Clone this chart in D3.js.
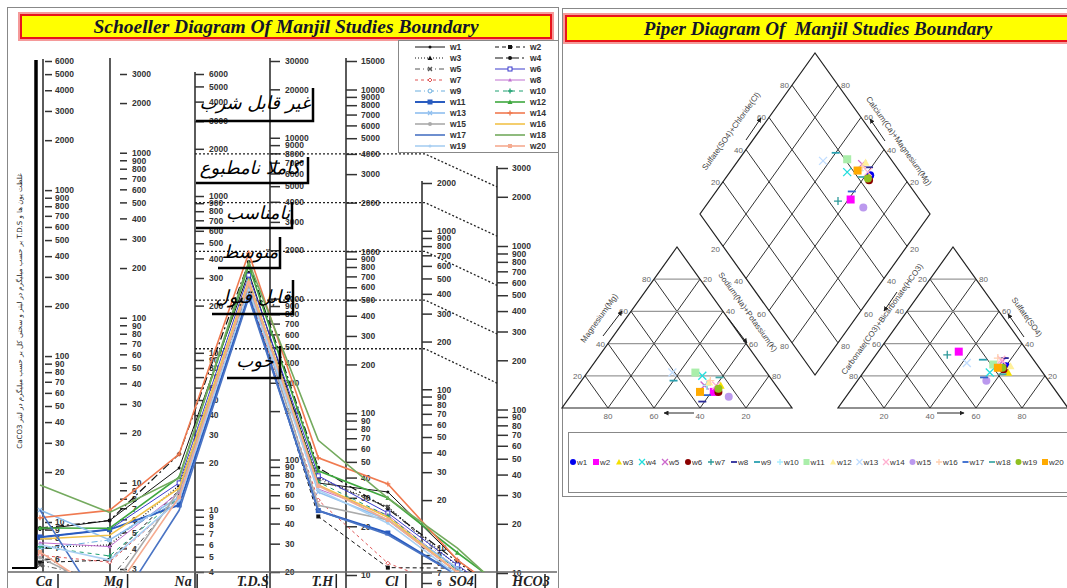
<!DOCTYPE html>
<meta charset="utf-8">
<script src="https://d3js.org/d3.v7.min.js"></script>
<style>
  body { margin: 0; background: #fff; }
  svg { display: block; }
</style>
<div id="chart"></div>
<script>
// ---------- data ----------
const wells = ["w1","w2","w3","w4","w5","w6","w7","w8","w9","w10",
               "w11","w12","w13","w14","w15","w16","w17","w18","w19","w20"];
const categories = ["Ca","Mg","Na","T.D.S","T.H","Cl","SO4","HCO3"];

// Schoeller values per ion, w1..w20 (read in the units of each axis)
const ca   = [9.0,5.7,7.0,9.2,5.5,8.1,6.3,7.5,6.9,7.1,8.1,9.2,11.8,10.6,6.1,7.9,11.8,16.7,7.3,6.6];
const mg   = [5.9,3.4,4.2,5.9,2.6,5.2,3.3,4.1,4.5,3.6,5.2,5.3,4.5,6.8,2.2,4.8,1.5,6.6,3.4,2.0];
const na   = [18.4,13.3,14.3,22.6,12.4,14.8,11.5,12.9,11.5,12.0,10.7,16.1,12.0,22.6,13.3,13.7,9.9,15.9,11.5,12.0];
const tds  = [1460,1130,1210,1690,1160,1400,1100,1300,1250,1300,1050,1610,1270,1920,1210,1300,1010,1690,1130,1250];
const th   = [37,23,40,46,39,41,29,34,36,37.5,25,44,32.5,53,27,36,25,68,33.5,35.5];
const cl   = [22.5,7.5,18.1,17.6,18.1,16.6,8.0,16.1,15.0,15.9,12.4,20.6,15.0,25.3,15.0,15.6,12.1,20.6,14.3,15.0];
const so4  = [12.0,10.7,11.0,11.7,10.4,11.2,7.9,10.4,10.1,10.4,9.7,13.3,10.7,12.0,10.1,10.1,9.7,14.2,9.7,10.1];
const hco3 = [5.9,5.2,5.5,5.8,5.2,5.5,3.9,5.2,5.0,5.2,4.8,6.4,5.3,5.9,5.2,5.0,4.8,5.8,4.8,5.0];

// tick labels of the Schoeller axes
const ticksCa  = [6000,5000,4000,3000,2000,1000,900,800,700,600,500,400,300,200,100,90,80,70,60,50,40,30,20,10,9,8,7,6];
const ticksMg  = [3000,2000,1000,900,800,700,600,500,400,300,200,100,90,80,70,60,50,40,30,20,10,9,8,7,6,5,4,3];
const ticksNa  = [6000,5000,4000,3000,2000,1000,900,800,700,600,500,400,300,200,100,90,80,70,60,50,40,30,20,10,9,8,7,6,5,4];
const ticksTds = [30000,20000,10000,9000,8000,7000,6000,5000,4000,3000,2000,1000,900,800,700,600,500,400,300,200,100,90,80,70,60,50,40,30,20];
const ticksTh  = [15000,10000,9000,8000,7000,6000,5000,4000,3000,2000,1000,900,800,700,600,500,400,300,200,100,90,80,70,60,50,40,30,20,10];
const ticksCl  = [2000,1000,900,800,700,600,500,400,300,200,100,90,80,70,60,50,40,30,20,10,9,8,7,6];
const ticksSo4 = [3000,2000,1000,900,800,700,600,500,400,300,200,100,90,80,70,60,50,40,30,20,10];

// drinking water class boundaries (on T.H axis) and their end on the last axis
const boundTH  = [4000, 2000, 1000, 500, 250];
const boundEnd = [2300, 1150, 575, 290, 145];
const classNames = ["غیر قابل شرب", "کاملا نامطبوع", "نامناسب", "متوسط", "قابل قبول", "خوب"];
const yTitle = "غلظت یون ها و T.D.S بر حسب میلیگرم در لیتر و سختی کل بر حسب میلیگرم در لیتر CaCO3";

// Piper percentages, w1..w20
const mgPct  = [11,10,14,20,14,10,14,4,17,14,22,16,22,14,7,17,8,19,12,10];
const naPct  = [62,61,62,51,55,63,56,59,40,56,47,56,37,60,69,56,59,59,62,55];
const so4Pct = [26,35,22,22,29,24,33,31,30,26,27,26,28,30,17,31,19,21,25,25];
const clPct  = [60,35,63,55,57,60,31,57,48,57,54,62,42,56,56,54,54,61,59,57];
const piperTicks = [20, 40, 60, 80];

// ---------- styles ----------
const sStyle = [
  {c:"#111", d:null, w:1, m:"circle", ms:3},
  {c:"#111", d:"4,3", w:1, m:"square", ms:4},
  {c:"#111", d:"1,2", w:1.2, m:"triangle", ms:5},
  {c:"#111", d:"8,3,2,3", w:1.2, m:"circle", ms:4},
  {c:"#555", d:"5,3,1,3", w:1, m:"x", ms:4},
  {c:"#3a3acc", d:null, w:1, m:"osquare", ms:4},
  {c:"#e05555", d:"3,3", w:1, m:"odiamond", ms:4},
  {c:"#c070d0", d:null, w:1, m:"triangle", ms:4},
  {c:"#6aaede", d:"6,3,1,3", w:1, m:"ocircle", ms:4},
  {c:"#1ea070", d:"4,4", w:1, m:"plus", ms:5},
  {c:"#2a5cc0", d:null, w:2, m:"square", ms:5},
  {c:"#3fa83f", d:null, w:1.6, m:"triangle", ms:5},
  {c:"#8fbfef", d:null, w:1.6, m:"x", ms:4},
  {c:"#f07a50", d:null, w:1.6, m:"plus", ms:5},
  {c:"#aaaaaa", d:null, w:1.6, m:"circle", ms:4},
  {c:"#f2c24a", d:null, w:1.6, m:null},
  {c:"#4a74c4", d:null, w:1.6, m:null},
  {c:"#74aa5e", d:null, w:1.6, m:null},
  {c:"#a8cff2", d:null, w:1.6, m:"circle", ms:3},
  {c:"#f5ab90", d:null, w:1.6, m:"square", ms:4}
];
const pStyle = [
  ["circle","#0000ee"],["square","#ff00ff"],["triangle","#f5e000"],["x","#22dddd"],["x","#cc66cc"],
  ["circle","#8b0000"],["plus","#2e9a9a"],["dash","#2a2a99"],["dash","#2aa0b0"],["plus","#aaeeff"],
  ["square","#aaeeaa"],["triangle","#fff09a"],["x","#c0ddff"],["x","#ffb0d0"],["circle","#bb99ee"],
  ["plus","#ffd0b0"],["dash","#3366cc"],["dash","#44aaaa"],["circle","#90c020"],["square","#ffaa00"]
];

const svg = d3.select("#chart").append("svg")
  .attr("width", 1067).attr("height", 588)
  .style("font-family", "'Liberation Sans', Arial, sans-serif");

svg.append("defs").append("marker")
  .attr("id", "arr").attr("viewBox", "0 0 10 10").attr("refX", 9).attr("refY", 5)
  .attr("markerWidth", 5).attr("markerHeight", 5).attr("orient", "auto")
  .append("path").attr("d", "M0,0 L10,5 L0,10 z").attr("fill", "#222");
svg.select("defs").append("clipPath").attr("id", "plotclip")
  .append("rect").attr("x", 8).attr("y", 42).attr("width", 549).attr("height", 530);

// marker helper
function marker(g, type, x, y, size, color) {
  const a = size / 2;
  if (type === "circle") g.append("circle").attr("cx", x).attr("cy", y).attr("r", a).attr("fill", color);
  else if (type === "ocircle") g.append("circle").attr("cx", x).attr("cy", y).attr("r", a).attr("fill", "#fff").attr("stroke", color);
  else if (type === "square") g.append("rect").attr("x", x - a).attr("y", y - a).attr("width", size).attr("height", size).attr("fill", color);
  else if (type === "osquare") g.append("rect").attr("x", x - a).attr("y", y - a).attr("width", size).attr("height", size).attr("fill", "#fff").attr("stroke", color);
  else if (type === "odiamond") g.append("path").attr("d", `M${x},${y-a}L${x+a},${y}L${x},${y+a}L${x-a},${y}Z`).attr("fill", "#fff").attr("stroke", color);
  else if (type === "triangle") g.append("path").attr("d", `M${x},${y-a}L${x+a},${y+a*0.8}L${x-a},${y+a*0.8}Z`).attr("fill", color);
  else if (type === "x") g.append("path").attr("d", `M${x-a},${y-a}L${x+a},${y+a}M${x-a},${y+a}L${x+a},${y-a}`).attr("stroke", color).attr("stroke-width", 1.3);
  else if (type === "plus") g.append("path").attr("d", `M${x-a},${y}L${x+a},${y}M${x},${y-a}L${x},${y+a}`).attr("stroke", color).attr("stroke-width", 1.3);
  else if (type === "dash") g.append("path").attr("d", `M${x-a},${y}L${x+a},${y}`).attr("stroke", color).attr("stroke-width", 1.8);
}

// ---------- frames & titles ----------
svg.append("rect").attr("x", 7.5).attr("y", 7.5).attr("width", 551).attr("height", 600)
  .attr("fill", "none").attr("stroke", "#888");
svg.append("rect").attr("x", 562.5).attr("y", 8.5).attr("width", 520).attr("height", 488)
  .attr("fill", "none").attr("stroke", "#888");

function titleBox(x, y, w, h, txt, fs) {
  svg.append("rect").attr("x", x).attr("y", y).attr("width", w).attr("height", h).attr("fill", "#f59a9a");
  svg.append("rect").attr("x", x + 3).attr("y", y + 3).attr("width", w - 6).attr("height", h - 6)
    .attr("fill", "#ffff00").attr("stroke", "#e8141c").attr("stroke-width", 2);
  svg.append("text").attr("x", x + w / 2).attr("y", y + h / 2 + fs * 0.33)
    .attr("text-anchor", "middle").attr("font-family", "'Liberation Serif','Times New Roman',serif")
    .attr("font-weight", "bold").attr("font-style", "italic").attr("font-size", fs)
    .attr("fill", "#14142a").style("white-space", "pre").text(txt);
}
titleBox(18, 12, 536, 29, "Schoeller Diagram Of Manjil Studies Boundary", 19.5);
titleBox(563, 13, 510, 31, "Piper Diagram Of  Manjil Studies Boundary", 19);

// ---------- Schoeller ----------
const axes = [
  {x: 43,  tx: 45,  ts: 7, tp: 3, ticks: ticksCa,  dom: [10, 6000],  rng: [522, 61], y1: 59,  y2: 572},
  {x: 110, tx: 120, ts: 7, tp: 5, ticks: ticksMg,  dom: [3, 3000],   rng: [569, 74], y1: 58,  y2: 572},
  {x: 195, tx: 195, ts: 9, tp: 5, ticks: ticksNa,  dom: [4, 6000],   rng: [572, 74], y1: 72,  y2: 588},
  {x: 270, tx: 270, ts: 10, tp: 5, ticks: ticksTds, dom: [20, 30000], rng: [572, 61], y1: 58,  y2: 588},
  {x: 346, tx: 346, ts: 11, tp: 4, ticks: ticksTh,  dom: [10, 15000], rng: [575, 61], y1: 58,  y2: 588},
  {x: 422, tx: 422, ts: 10, tp: 5, ticks: ticksCl,  dom: [6, 2000],   rng: [583, 183], y1: 181, y2: 588},
  {x: 497, tx: 497, ts: 11, tp: 4, ticks: ticksSo4, dom: [10, 3000],  rng: [573, 168], y1: 166, y2: 588}
];
axes.forEach(a => {
  a.scale = d3.scaleLog().domain(a.dom).range(a.rng);
  svg.append("line").attr("x1", a.x).attr("x2", a.x).attr("y1", a.y1).attr("y2", a.y2)
    .attr("stroke", "#333").attr("stroke-width", 1.6);
  const g = svg.append("g").attr("transform", `translate(${a.tx},0)`)
    .call(d3.axisRight(a.scale).tickValues(a.ticks).tickFormat(d3.format("d")).tickSize(a.ts).tickPadding(a.tp));
  g.select(".domain").remove();
  g.attr("font-size", 8.5).attr("font-family", "'Liberation Sans', Arial, sans-serif").attr("font-weight", "bold");
  g.selectAll("line").attr("stroke", "#333").attr("stroke-width", 1.5);
  g.selectAll("text").attr("fill", "#333");
});
const colScale = {"Ca": axes[0].scale, "Mg": axes[1].scale, "Na": axes[2].scale, "T.D.S": axes[3].scale,
                  "T.H": axes[4].scale, "Cl": axes[5].scale, "SO4": axes[6].scale, "HCO3": axes[6].scale};
const ionData = {"Ca": ca, "Mg": mg, "Na": na, "T.D.S": tds, "T.H": th, "Cl": cl, "SO4": so4, "HCO3": hco3};
const x = d3.scalePoint().domain(categories).range([40, 527]);

// left bar with the vertical Persian title
svg.append("line").attr("x1", 36).attr("x2", 36).attr("y1", 60).attr("y2", 568).attr("stroke", "#000").attr("stroke-width", 3.5);
svg.append("line").attr("x1", 12).attr("x2", 37).attr("y1", 568).attr("y2", 568).attr("stroke", "#000").attr("stroke-width", 2);
svg.append("text").attr("transform", "translate(22,311) rotate(-90)")
  .attr("text-anchor", "middle").attr("direction", "rtl").attr("font-size", 7)
  .attr("font-family", "'DejaVu Sans', sans-serif").attr("fill", "#222").text(yTitle);

// bottom axis line and category labels
svg.append("line").attr("x1", 8).attr("x2", 557).attr("y1", 572).attr("y2", 572).attr("stroke", "#666").attr("stroke-width", 1.6);
categories.forEach(c => {
  svg.append("text").attr("x", x(c) + 4).attr("y", 586).attr("text-anchor", "middle")
    .attr("font-family", "'Liberation Serif','Times New Roman',serif").attr("font-weight", "bold")
    .attr("font-style", "italic").attr("font-size", 14).attr("fill", "#222").text(c);
  svg.append("line").attr("x1", x(c) + 18).attr("x2", x(c) + 18).attr("y1", 574).attr("y2", 588)
    .attr("stroke", "#222").attr("stroke-width", 1.5);
});

// class boundaries (dotted)
boundTH.forEach((v, i) => {
  const yy = axes[4].scale(v);
  svg.append("path").attr("d", d3.line()([[195, yy], [425, yy], [497, axes[6].scale(boundEnd[i])]]))
    .attr("fill", "none").attr("stroke", "#222").attr("stroke-width", 1.3).attr("stroke-dasharray", "2,2");
});

// data lines
const plot = svg.append("g").attr("clip-path", "url(#plotclip)");
wells.forEach((w, i) => {
  const st = sStyle[i];
  const pts = categories.map(c => [x(c), colScale[c](ionData[c][i])]);
  plot.append("path").attr("d", d3.line()(pts)).attr("fill", "none")
    .attr("stroke", st.c).attr("stroke-width", st.w).attr("stroke-dasharray", st.d);
  if (st.m) pts.forEach(p => marker(plot, st.m, p[0], p[1], st.ms, st.c));
});

// class annotations (Persian)
const boxes = [
  {tx: 255, ty: 109, vx: 313, vy1: 88,  vy2: 121, hx1: 196},
  {tx: 250, ty: 174, vx: 308, vy1: 157, vy2: 183, hx1: 196},
  {tx: 258, ty: 219, vx: 292, vy1: 202, vy2: 228, hx1: 196},
  {tx: 250, ty: 258, vx: 280, vy1: 237, vy2: 268, hx1: 218},
  {tx: 253, ty: 303, vx: 293, vy1: 280, vy2: 314, hx1: 212},
  {tx: 255, ty: 367, vx: 280, vy1: 346, vy2: 378, hx1: 227}
];
classNames.forEach((t, i) => {
  const b = boxes[i];
  svg.append("path").attr("d", `M${b.hx1},${b.vy2}H${b.vx}V${b.vy1}`).attr("fill", "none")
    .attr("stroke", "#000").attr("stroke-width", 2.5);
  svg.append("text").attr("x", b.tx).attr("y", b.ty).attr("text-anchor", "middle").attr("direction", "rtl")
    .attr("font-family", "'DejaVu Sans', sans-serif").attr("font-style", "italic").attr("font-size", 18)
    .attr("fill", "#000").text(t);
});

// legend (top right)
const lg = svg.append("g");
lg.append("rect").attr("x", 398.5).attr("y", 40.5).attr("width", 160).attr("height", 112)
  .attr("fill", "#fff").attr("stroke", "#888");
wells.forEach((w, i) => {
  const col = i % 2, row = Math.floor(i / 2);
  const x0 = col ? 495 : 415, yy = 47 + row * 11;
  const st = sStyle[i];
  lg.append("line").attr("x1", x0).attr("x2", x0 + 30).attr("y1", yy).attr("y2", yy)
    .attr("stroke", st.c).attr("stroke-width", st.w).attr("stroke-dasharray", st.d);
  if (st.m) marker(lg, st.m, x0 + 15, yy, st.ms, st.c);
  lg.append("text").attr("x", x0 + 35).attr("y", yy + 3).attr("font-size", 8.5)
    .attr("font-weight", "bold").attr("fill", "#333").text(w);
});

// ---------- Piper ----------
const pg = svg.append("g");
const S = 230, Ht = 161, yb = 408;
const tri = x0 => ({x: d3.scaleLinear().domain([0, 1]).range([x0, x0 + S]),
                    y: d3.scaleLinear().domain([0, 1]).range([yb, yb - Ht])});
const catT = tri(562), anT = tri(838);
const tp = (T, up, right) => [T.x(right + up / 2), T.y(up)];
const dX = d3.scaleLinear().domain([-1, 1]).range([700, 930]);
const dY = d3.scaleLinear().domain([0, 2]).range([375, 53]);
const dp = (cm, sc) => [dX(sc - cm), dY(sc + cm)];

const seg = (a, b, col, w) => pg.append("line").attr("x1", a[0]).attr("y1", a[1]).attr("x2", b[0]).attr("y2", b[1])
  .attr("stroke", col).attr("stroke-width", w);
const poly = pts => pg.append("path").attr("d", d3.line()(pts) + "Z").attr("fill", "none")
  .attr("stroke", "#222").attr("stroke-width", 1.2);

[catT, anT].forEach(T => {
  piperTicks.forEach(v => {
    const t = v / 100;
    seg(tp(T, t, 0), tp(T, t, 1 - t), "#999", 1.3);
    seg(tp(T, 0, t), tp(T, 1 - t, t), "#333", 1);
    seg(tp(T, 0, 1 - t), tp(T, 1 - t, 0), "#333", 1);
  });
  poly([tp(T, 0, 0), tp(T, 0, 1), tp(T, 1, 0)]);
});
piperTicks.forEach(v => {
  const t = v / 100;
  seg(dp(t, 0), dp(t, 1), "#333", 1);
  seg(dp(0, t), dp(1, t), "#333", 1);
});
poly([dp(0, 0), dp(1, 0), dp(1, 1), dp(0, 1)]);

const lab = (p, txt, anchor, dx, dy) => pg.append("text").attr("x", p[0] + dx).attr("y", p[1] + dy)
  .attr("text-anchor", anchor).attr("font-size", 8).attr("fill", "#666").text(txt);
piperTicks.forEach(v => {
  const t = v / 100;
  lab(tp(catT, t, 0), v, "end", -3, 3);
  lab(tp(catT, 1 - t, t), v, "start", 3, 3);
  lab(tp(catT, 0, 1 - t), v, "middle", 0, 11);
  lab(tp(anT, 1 - t, 0), v, "end", -3, 3);
  lab(tp(anT, t, 1 - t), v, "start", 3, 3);
  lab(tp(anT, 0, t), v, "middle", 0, 11);
  lab(dp(1, t), v, "end", -3, 3);
  lab(dp(t, 1), v, "start", 3, 3);
  lab(dp(1 - t, 0), v, "end", -3, 6);
  lab(dp(0, 1 - t), v, "start", 3, 6);
});

const ptitles = [
  ["Magnesium(Mg)", 599, 318, -54.5],
  ["Sodium(Na)+Potassium(K)", 748, 312, 54.5],
  ["Carbonate(CO3)+Bicarbonate(HCO3)", 882, 319, -54.5],
  ["Sulfate(SO4)", 1027, 317, 54.5],
  ["Sulfate(SO4)+Chloride(Cl)", 731, 131, -54.5],
  ["Calcium(Ca)+Magnesium(Mg)", 899, 141, 54.5]
];
ptitles.forEach(d => pg.append("text").attr("transform", `translate(${d[1]},${d[2]}) rotate(${d[3]})`)
  .attr("text-anchor", "middle").attr("dy", "0.35em").attr("font-size", 8).attr("fill", "#444").text(d[0]));

const arrows = [[603, 336, 622, 311], [728, 318, 747, 343], [694, 413, 664, 413],
                [746, 140, 761, 118], [885, 141, 870, 119],
                [897, 292, 884, 311], [1024, 337, 1008, 314], [937, 413, 964, 413]];
arrows.forEach(a => pg.append("line").attr("x1", a[0]).attr("y1", a[1]).attr("x2", a[2]).attr("y2", a[3])
  .attr("stroke", "#222").attr("stroke-width", 1).attr("marker-end", "url(#arr)"));

// points
wells.forEach((w, i) => {
  const [type, col] = pStyle[i];
  const c = tp(catT, mgPct[i] / 100, naPct[i] / 100);
  const a = tp(anT, so4Pct[i] / 100, clPct[i] / 100);
  const d = dp(1 - naPct[i] / 100, (so4Pct[i] + clPct[i]) / 100);
  [c, a, d].forEach(p => marker(pg, type, p[0], p[1], 8, col));
});

// Piper legend
pg.append("rect").attr("x", 568.5).attr("y", 432.5).attr("width", 510).attr("height", 60)
  .attr("fill", "none").attr("stroke", "#888");
let lx = 573;
wells.forEach((w, i) => {
  const [type, col] = pStyle[i];
  marker(pg, type, lx, 462, 6, col);
  pg.append("text").attr("x", lx + 4).attr("y", 465).attr("font-size", 8).attr("fill", "#333").text(w);
  lx += w.length === 2 ? 23 : 26.5;
});
</script>
